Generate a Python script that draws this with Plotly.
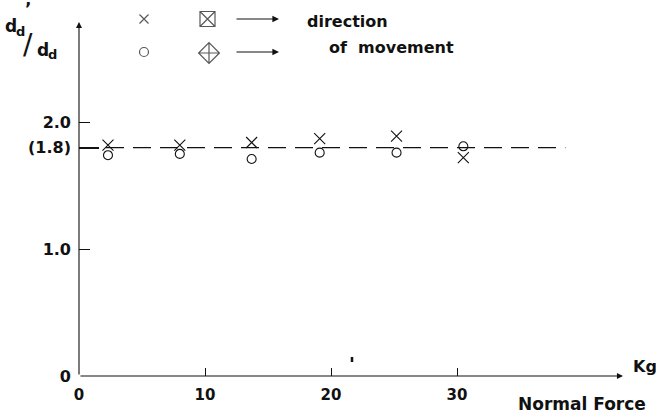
import plotly.graph_objects as go

# ---- data ----
force_kg = [2.3, 8.0, 13.7, 19.1, 25.2, 30.5]
ratio_cross = [1.82, 1.82, 1.84, 1.87, 1.89, 1.72]
ratio_circle = [1.74, 1.75, 1.71, 1.76, 1.76, 1.81]
mean_ratio = 1.8
mean_line_x = [0, 38.6]

x_tickvals = [0, 10, 20, 30]
x_ticktext = ["0", "10", "20", "30"]
y_tickvals = [0, 1.0, 1.8, 2.0]
y_ticktext = ["0", "1.0", "(1.8)", "2.0"]

# ---- layout geometry ----
W, H = 656, 420
L, R, T, B = 79, 33, 4, 44
PX_PER_UNIT_Y = 126.9
X_MAX = 43.17
Y_MAX = (H - B - T) / PX_PER_UNIT_Y      # plot area top (legend lives inside)
Y_ARROW = (H - B - 22) / PX_PER_UNIT_Y   # tip of the y-axis arrow
pw, ph = W - L - R, H - T - B
INK = "#111111"
FONT = "DejaVu Sans"


def px(X):
    return (X - L) / pw


def py(Y):
    return (H - B - Y) / ph


def xd(X):
    return px(X) * X_MAX


def yd(Y):
    return py(Y) * Y_MAX


fig = go.Figure()

# dashed mean line
fig.add_trace(go.Scatter(
    x=mean_line_x, y=[mean_ratio] * len(mean_line_x), mode="lines",
    line=dict(color=INK, width=1.2, dash="18px,9px"), hoverinfo="skip"))

# data
fig.add_trace(go.Scatter(
    x=force_kg, y=ratio_cross, mode="markers",
    marker=dict(symbol="x-thin-open", size=11, color=INK,
                line=dict(color=INK, width=1.1))))
fig.add_trace(go.Scatter(
    x=force_kg, y=ratio_circle, mode="markers",
    marker=dict(symbol="circle-open", size=9, color=INK,
                line=dict(color=INK, width=1.1))))

# legend keys (drawn in the header area)
fig.add_trace(go.Scatter(
    x=[xd(144), xd(207.5)], y=[yd(19), yd(19)], mode="markers", cliponaxis=False,
    marker=dict(symbol=["x-thin-open", "square-x-open"], size=[9, 15], color=INK,
                line=dict(color=INK, width=1.2)), hoverinfo="skip"))
fig.add_trace(go.Scatter(
    x=[xd(144), xd(209)], y=[yd(52), yd(53)], mode="markers", cliponaxis=False,
    marker=dict(symbol=["circle-open", "diamond-cross-open"], size=[9, 16], color=INK,
                line=dict(color=INK, width=1.2)), hoverinfo="skip"))

ann = []
# axis arrows
ann.append(dict(x=0, y=Y_ARROW, ax=0, ay=0, xref="x", yref="y", axref="x", ayref="y",
                text="", showarrow=True, arrowhead=2, arrowsize=1.1, arrowwidth=1.1,
                arrowcolor=INK))
ann.append(dict(x=X_MAX, y=0, ax=0, ay=0, xref="x", yref="y", axref="x", ayref="y",
                text="", showarrow=True, arrowhead=2, arrowsize=1.1, arrowwidth=1.1,
                arrowcolor=INK))
# legend arrows
for Yp in (19, 52):
    ann.append(dict(x=px(279), y=py(Yp), xref="paper", yref="paper", ax=-44, ay=0,
                    text="", showarrow=True, arrowhead=2, arrowsize=1.1,
                    arrowwidth=1.2, arrowcolor=INK))
# legend text
ann.append(dict(x=px(305), y=py(22), xref="paper", yref="paper", text="direction",
                showarrow=False, xanchor="left", yanchor="middle",
                font=dict(family=FONT, size=16, color=INK, weight="bold")))
ann.append(dict(x=px(327), y=py(47), xref="paper", yref="paper",
                text="of\u00a0 movement", showarrow=False, xanchor="left",
                yanchor="middle", font=dict(family=FONT, size=16, color=INK, weight="bold")))


def letter(text, X, Y, size, anchor="left", bold=True):
    f = dict(family=FONT, size=size, color=INK)
    if bold:
        f["weight"] = "bold"
    ann.append(dict(x=px(X), y=py(Y), xref="paper", yref="paper", text=text,
                    showarrow=False, xanchor=anchor, yanchor="middle",
                    borderpad=0, font=f))


# y label  d'_d / d_d  (built from single glyphs)
letter("d", 4, 26, 17)
letter("d", 15, 31, 13)
letter("\u2019", 28, 9, 17, "center")
letter("/", 28, 44, 28, "center", bold=False)
letter("d", 36, 50, 17)
letter("d", 47, 54, 13)

# axis titles
ann.append(dict(x=px(631), y=py(366), xref="paper", yref="paper", text="Kg",
                showarrow=False, xanchor="left", yanchor="middle",
                font=dict(family=FONT, size=16, color=INK, weight="bold")))
ann.append(dict(x=px(516), y=py(404), xref="paper", yref="paper", text="Normal Force",
                showarrow=False, xanchor="left", yanchor="middle",
                font=dict(family=FONT, size=17, color=INK, weight="bold")))

fig.update_layout(
    width=W, height=H, margin=dict(l=L, r=R, t=T, b=B),
    paper_bgcolor="white", plot_bgcolor="white", showlegend=False,
    annotations=ann,
    shapes=[dict(type="line", xref="x", yref="y", x0=xd(352), x1=xd(352),
                 y0=yd(362), y1=yd(357), line=dict(color=INK, width=2.5))],
    xaxis=dict(range=[0, X_MAX], showgrid=False, zeroline=False, showline=False,
               ticks="inside", ticklen=8, tickwidth=1, tickcolor=INK,
               tickmode="array", tickvals=x_tickvals, ticktext=x_ticktext,
               ticklabelstandoff=8,
               tickfont=dict(family=FONT, size=15, color=INK, weight="bold")),
    yaxis=dict(range=[0, Y_MAX], showgrid=False, zeroline=False, showline=False,
               ticks="inside", ticklen=11, tickwidth=1, tickcolor=INK,
               tickmode="array", tickvals=y_tickvals, ticktext=y_ticktext,
               ticklabelstandoff=7,
               tickfont=dict(family=FONT, size=16, color=INK, weight="bold"),
               minor=dict(tickmode="array", tickvals=[mean_ratio], ticks="inside",
                          ticklen=20, tickwidth=2, tickcolor=INK)),
)

fig.write_html("out.html")
